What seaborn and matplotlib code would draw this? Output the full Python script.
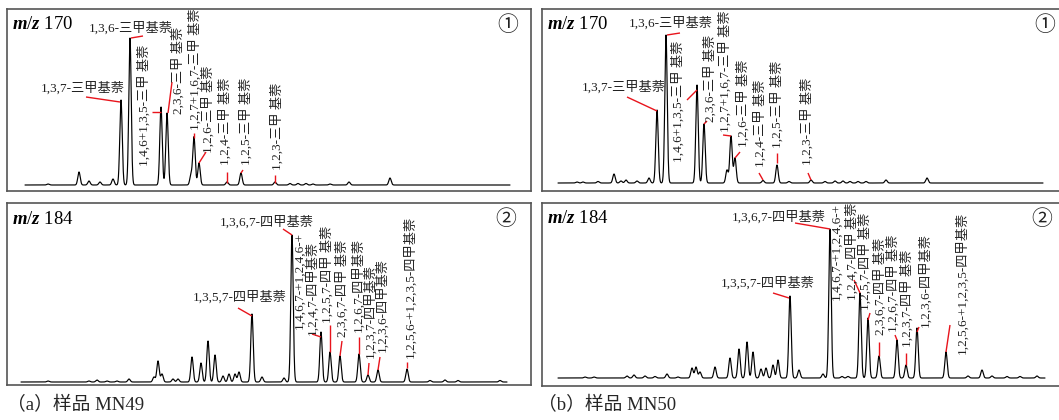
import numpy as np
import pandas as pd
import matplotlib
matplotlib.use("Agg")
import matplotlib.pyplot as plt
import seaborn as sns

W, H = 1059, 420

# ---------------------------------------------------------------
# Peak lists (position, height above baseline)
# ---------------------------------------------------------------
# (a) MN49, m/z 170
a170_rt = [48, 79, 89, 100, 113, 121, 130, 161, 167, 191, 194, 199, 227, 241,
           275, 290, 298, 306, 313, 330, 349, 390]
a170_h = [1, 13, 4, 3, 6, 85, 147, 78, 72, 10, 48, 22, 3, 12,
          3, 1.5, 1.5, 1.5, 1, 1, 3, 7]
# (b) MN50, m/z 170
b170_rt = [577, 583, 598, 614, 621, 626, 637, 649, 657, 666, 697, 704, 727, 731,
           735, 763, 777, 789, 811, 825, 835, 843, 850, 858, 866, 886, 927]
b170_h = [1, 1, 1.5, 9, 2, 3, 2, 5, 73, 148, 98, 59, 13, 47,
          25, 2.5, 18, 1.5, 3, 1.5, 2, 2, 1.5, 1.5, 1.5, 3, 5]
# (a) MN49, m/z 184
a184_rt = [48, 89, 97, 107, 117, 129, 154, 158, 162, 173, 178, 192, 201, 208,
           215, 223, 229, 235, 239, 252, 262, 284, 292, 321, 330, 340, 359, 368,
           378, 407, 430, 445, 458, 500]
a184_h = [1, 1, 2, 1, 1, 3, 5, 21, 8, 3, 3, 25, 19, 41,
          27, 6, 8, 8, 10, 68, 5, 4, 147, 50, 30, 26, 28, 7,
          12, 13, 1.5, 2, 1.5, 1.5]
# (b) MN50, m/z 184
b184_rt = [585, 594, 627, 634, 645, 655, 667, 678, 692, 696, 700, 715, 730, 739,
           747, 753, 761, 766, 773, 778, 790, 799, 823, 830, 842, 848, 860, 868,
           879, 897, 906, 917, 946, 968, 982, 992, 1007, 1020, 1037]
b184_h = [1, 1, 2, 3, 2, 1.5, 4, 1, 10, 11, 6, 11, 20, 29,
          36, 26, 9, 10, 13, 18, 82, 8, 4, 149, 1.5, 1.5, 85, 60,
          22, 38, 13, 50, 26, 2, 8, 2, 1.5, 1.5, 2]

tri = "三甲基萘"
tet = "四甲基萘"

# labels: text, x, y, orientation ('h' = left/centre, 'v' = centre/bottom)
a170_labels = [
    ("1,3,7-" + tri, 41, 88, "h"), ("1,3,6-" + tri, 89, 28, "h"),
    ("1,4,6+1,3,5-三甲 基萘", 144, 166, "v"), ("2,3,6-三甲 基萘", 178, 114, "v"),
    ("1,2,7+1,6,7-三甲 基萘", 195, 130, "v"), ("1,2,6-三甲 基萘", 208, 153, "v"),
    ("1,2,4-三甲 基萘", 225, 165, "v"), ("1,2,5-三甲 基萘", 246, 165, "v"),
    ("1,2,3-三甲 基萘", 277, 170, "v"),
]
a170_leaders = [((86, 97), (120, 102)), ((131, 38), (143, 36)), ((152, 112), (161, 112)),
                ((168, 113), (172, 82)), ((194, 133), (194, 138)), ((199, 163), (206, 152)),
                ((227, 172), (227, 183)), ((241, 173), (243, 170)), ((275, 175), (275, 183))]

b170_labels = [
    ("1,3,7-" + tri, 582, 87, "h"), ("1,3,6-" + tri, 629, 23, "h"),
    ("1,4,6+1,3,5-三甲 基萘", 678, 162, "v"), ("2,3,6-三甲 基萘", 710, 122, "v"),
    ("1,2,7+1,6,7-三甲 基萘", 725, 132, "v"), ("1,2,6-三甲 基萘", 743, 147, "v"),
    ("1,2,4-三甲 基萘", 760, 167, "v"), ("1,2,5-三甲 基萘", 777, 148, "v"),
    ("1,2,3-三甲 基萘", 807, 165, "v"),
]
b170_leaders = [((627, 97), (657, 111)), ((667, 35), (680, 33)), ((687, 100), (697, 90)),
                ((704, 124), (707, 121)), ((723, 135), (731, 136)), ((735, 158), (740, 152)),
                ((759, 173), (763, 180)), ((777, 153), (777, 163)), ((808, 173), (811, 180))]

a184_labels = [
    ("1,3,6,7-" + tet, 220, 222, "h"), ("1,3,5,7-" + tet, 193, 297, "h"),
    ("1,4,6,7-+1,2,4,6-+", 300, 329, "v"), ("1,2,4,7-" + tet, 312, 335, "v"),
    ("1,2,5,7-四甲 基萘", 327, 323, "v"), ("2,3,6,7-四甲 基萘", 342, 337, "v"),
    ("1,2,6,7-" + tet, 358, 332, "v"), ("1,2,3,7-" + tet, 370, 358, "v"),
    ("1,2,3,6-" + tet, 382, 352, "v"), ("1,2,5,6-+1,2,3,5-" + tet, 410, 358, "v"),
]
a184_leaders = [((283, 229), (292, 235)), ((238, 308), (252, 316)), ((312, 334), (321, 337)),
                ((330, 325), (330, 352)), ((340, 356), (342, 341)), ((359, 337), (359, 354)),
                ((368, 375), (369, 363)), ((378, 370), (380, 357)), ((407, 362), (407, 368))]

b184_labels = [
    ("1,3,6,7-" + tet, 732, 217, "h"), ("1,3,5,7-" + tet, 721, 283, "h"),
    ("1,4,6,7-+1,2,4,6-+", 837, 300, "v"), ("1,2,4,7-四甲 基萘", 852, 300, "v"),
    ("1,2,5,7-四甲 基萘", 865, 310, "v"), ("2,3,6,7-四甲 基萘", 880, 335, "v"),
    ("1,2,6,7-四甲 基萘", 893, 332, "v"), ("1,2,3,7-四甲 基萘", 907, 347, "v"),
    ("1,2,3,6-" + tet, 925, 327, "v"), ("1,2,5,6-+1,2,3,5-" + tet, 962, 354, "v"),
]
b184_leaders = [((795, 223), (830, 229)), ((773, 293), (789, 298)), ((854, 280), (860, 293)),
                ((868, 320), (870, 313)), ((879, 342), (879, 356)), ((897, 340), (895, 335)),
                ((906, 353), (906, 365)), ((917, 332), (919, 327)), ((946, 352), (950, 325))]


def make_trace(rt, h, x0, x1, sigma=1.2):
    t = np.linspace(x0, x1, int((x1 - x0) * 8))
    s = np.zeros_like(t)
    for c, a in zip(rt, h):
        s += a * np.exp(-0.5 * ((t - c) / sigma) ** 2)
    return pd.DataFrame({"t": t, "signal": s})


sns.set_theme(style="white")
plt.rcParams["font.family"] = ["Liberation Serif", "Noto Sans CJK SC"]
plt.rcParams["mathtext.fontset"] = "custom"
plt.rcParams["mathtext.it"] = "Liberation Serif:italic:bold"
plt.rcParams["mathtext.rm"] = "Liberation Serif"

fig = plt.figure(figsize=(W / 100, H / 100), dpi=100)

panels = [
    # box (l, t, r, b), baseline, trace range, data, labels, m/z, circle
    dict(box=(7, 9, 531, 191), base=185, span=(25, 510), rt=a170_rt, h=a170_h,
         labels=a170_labels, leaders=a170_leaders, mz="170", circ="①", cx=508),
    dict(box=(542, 9, 1062, 191), base=183, span=(558, 1043), rt=b170_rt, h=b170_h,
         labels=b170_labels, leaders=b170_leaders, mz="170", circ="①", cx=1045),
    dict(box=(7, 203, 531, 385), base=382, span=(21, 507), rt=a184_rt, h=a184_h,
         labels=a184_labels, leaders=a184_leaders, mz="184", circ="②", cx=506),
    dict(box=(542, 203, 1062, 386), base=378, span=(558, 1045), rt=b184_rt, h=b184_h,
         labels=b184_labels, leaders=b184_leaders, mz="184", circ="②", cx=1042),
]

for p in panels:
    l, t, r, b = p["box"]
    base = p["base"]
    ax = fig.add_axes([l / W, 1 - b / H, (r - l) / W, (b - t) / H])
    df = make_trace(p["rt"], p["h"], *p["span"])
    sns.lineplot(data=df, x="t", y="signal", ax=ax, color="black", linewidth=0.85,
                 estimator=None, sort=False)
    ax.set_xlim(l, r)
    ax.set_ylim(base - b, base - t)
    ax.set_xticks([])
    ax.set_yticks([])
    ax.set_xlabel("")
    ax.set_ylabel("")
    for sp in ax.spines.values():
        sp.set_color("#555555")
        sp.set_linewidth(1.2)

    # red leader lines
    for (x1, y1), (x2, y2) in p["leaders"]:
        ax.plot([x1, x2], [base - y1, base - y2], color="#e8141c", linewidth=1.0,
                solid_capstyle="butt")

    for txt, x, y, kind in p["labels"]:
        if kind == "h":
            ax.text(x, base - y, txt, ha="left", va="center", fontsize=9.5, color="#222222")
        else:
            ax.text(x, base - y, txt, ha="center", va="bottom", rotation=90,
                    fontsize=9.5, color="#222222")

    ax.text(l + 5, base - (t + 16), r"$m/z$ " + p["mz"], ha="left", va="center",
            fontsize=13.5, color="black")
    ax.text(p["cx"], base - (t + 16), p["circ"], ha="center", va="center",
            fontsize=15, color="#222222", family=["Noto Sans CJK SC", "DejaVu Sans"])

fig.text(7 / W, 1 - 405 / H, "（a）样品 MN49", ha="left", va="center", fontsize=13.5)
fig.text(538 / W, 1 - 405 / H, "（b）样品 MN50", ha="left", va="center", fontsize=13.5)

fig.savefig("out.png", dpi=100)
